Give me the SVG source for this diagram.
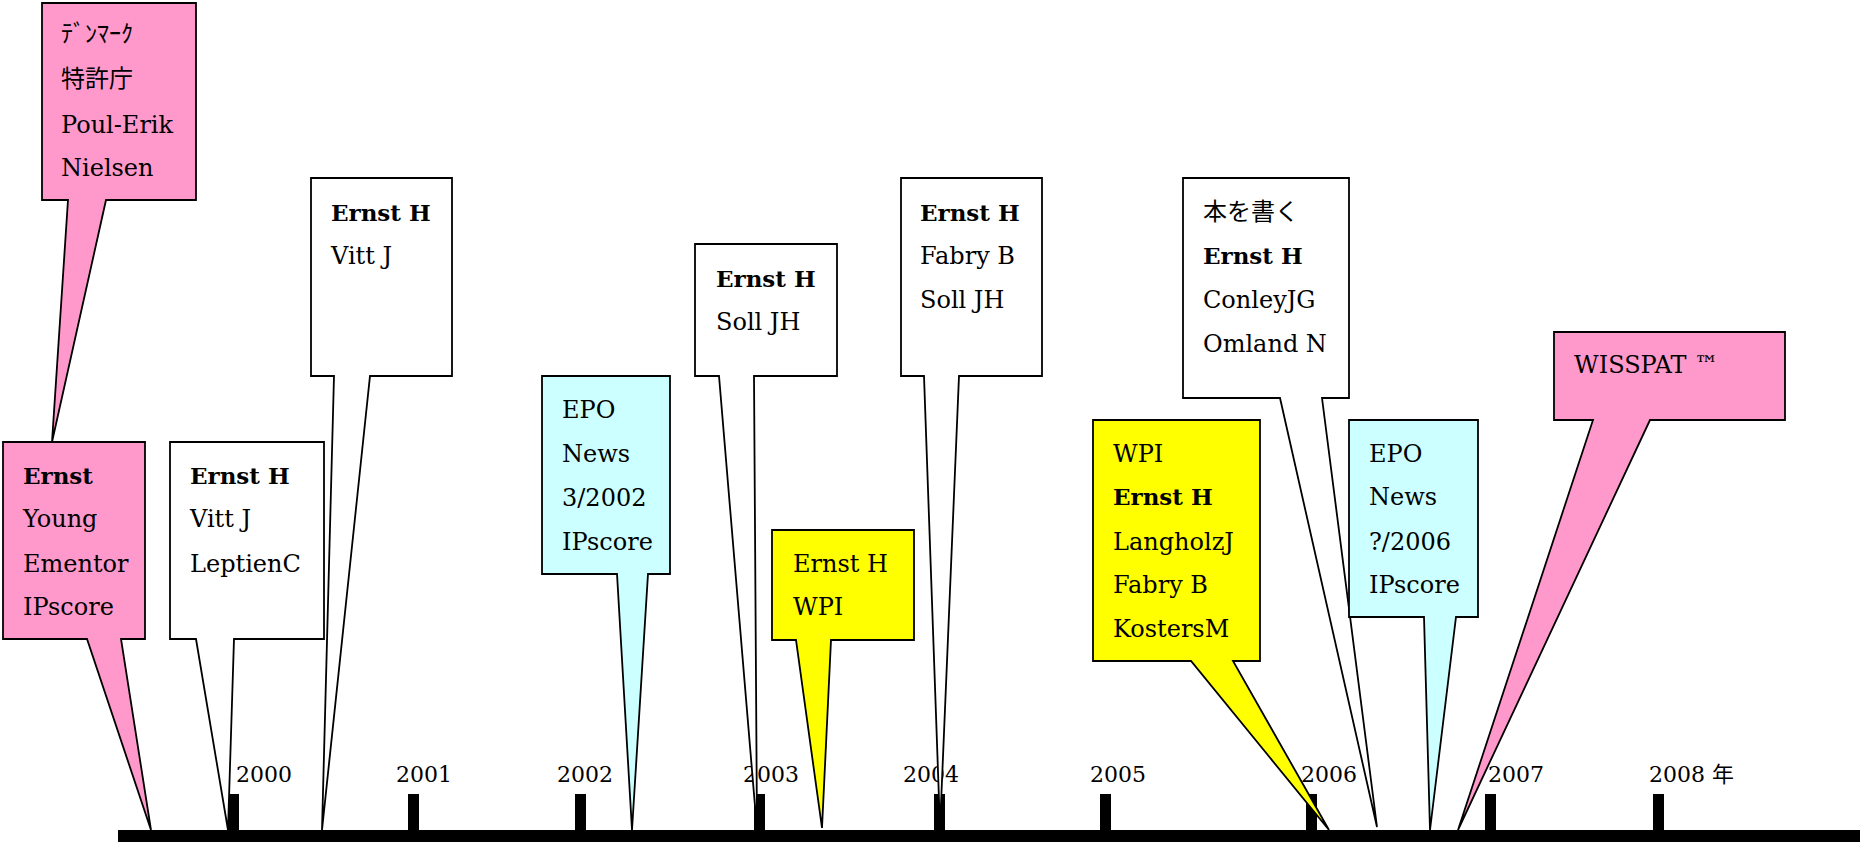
<svg xmlns="http://www.w3.org/2000/svg" width="1860" height="842" viewBox="0 0 1860 842">
<style>
.t{font-family:"DejaVu Serif","Noto Sans CJK JP",serif;font-size:24px;fill:#000}
.b{font-weight:bold;font-size:23px}
.y{font-family:"DejaVu Serif","Noto Sans CJK JP",serif;font-size:22px;fill:#000}
.co{stroke:#000;stroke-width:1.8;stroke-linejoin:miter}
.pink{fill:#FF99CC}.cyan{fill:#CCFFFF}.yel{fill:#FFFF00}.wht{fill:#FFFFFF}
.tick{fill:#000}
</style>
<rect width="1860" height="842" fill="#fff"/>
<g id="timeline">
<rect x="118" y="830" width="1742" height="12" fill="#000"/>
<rect class="tick" x="228" y="794" width="11" height="36"/>
<rect class="tick" x="408" y="794" width="11" height="36"/>
<rect class="tick" x="575" y="794" width="11" height="36"/>
<rect class="tick" x="754" y="794" width="11" height="36"/>
<rect class="tick" x="934" y="794" width="11" height="36"/>
<rect class="tick" x="1100" y="794" width="11" height="36"/>
<rect class="tick" x="1306" y="794" width="11" height="36"/>
<rect class="tick" x="1485" y="794" width="11" height="36"/>
<rect class="tick" x="1653" y="794" width="11" height="36"/>
<text class="y" x="236" y="782">2000</text>
<text class="y" x="396" y="782">2001</text>
<text class="y" x="557" y="782">2002</text>
<text class="y" x="743" y="782">2003</text>
<text class="y" x="903" y="782">2004</text>
<text class="y" x="1090" y="782">2005</text>
<text class="y" x="1301" y="782">2006</text>
<text class="y" x="1488" y="782">2007</text>
<text class="y" x="1649" y="782">2008 年</text>
</g>
<g id="connectors"></g>
<g id="c1">
<path class="co pink" d="M42,3 H196 V200 H106 L52,442 L68,200 H42 Z"/>
<text class="t" x="61" y="42">ﾃﾞﾝﾏｰｸ</text>
<text class="t" x="61" y="87">特許庁</text>
<text class="t" x="61" y="133">Poul-Erik</text>
<text class="t" x="61" y="176">Nielsen</text>
</g>
<g id="c2">
<path class="co pink" d="M3,442 H145 V639 H121 L151,830 L87,639 H3 Z"/>
<text class="t b" x="23" y="484">Ernst</text>
<text class="t" x="23" y="527">Young</text>
<text class="t" x="23" y="572">Ementor</text>
<text class="t" x="23" y="615">IPscore</text>
</g>
<g id="c3">
<path class="co wht" d="M170,442 H324 V639 H234 L228,830 L196,639 H170 Z"/>
<text class="t b" x="190" y="484">Ernst H</text>
<text class="t" x="190" y="527">Vitt J</text>
<text class="t" x="190" y="572">LeptienC</text>
</g>
<g id="c4">
<path class="co wht" d="M311,178 H452 V376 H370 L322,830 L334,376 H311 Z"/>
<text class="t b" x="331" y="221">Ernst H</text>
<text class="t" x="331" y="264">Vitt J</text>
</g>
<g id="c5">
<path class="co cyan" d="M542,376 H670 V574 H648 L632,830 L617,574 H542 Z"/>
<text class="t" x="562" y="418">EPO</text>
<text class="t" x="562" y="462">News</text>
<text class="t" x="562" y="506">3/2002</text>
<text class="t" x="562" y="550">IPscore</text>
</g>
<g id="c6">
<path class="co wht" d="M695,244 H837 V376 H754 L757,830 L719,376 H695 Z"/>
<text class="t b" x="716" y="287">Ernst H</text>
<text class="t" x="716" y="330">Soll JH</text>
</g>
<g id="c7">
<path class="co yel" d="M772,530 H914 V640 H831 L822,828 L796,640 H772 Z"/>
<text class="t" x="793" y="572">Ernst H</text>
<text class="t" x="793" y="615">WPI</text>
</g>
<g id="c8">
<path class="co wht" d="M901,178 H1042 V376 H959 L940,828 L924,376 H901 Z"/>
<text class="t b" x="920" y="221">Ernst H</text>
<text class="t" x="920" y="264">Fabry B</text>
<text class="t" x="920" y="308">Soll JH</text>
</g>
<g id="c9">
<path class="co wht" d="M1183,178 H1349 V398 H1322 L1377,827 L1280,398 H1183 Z"/>
<text class="t" x="1203" y="220">本を書く</text>
<text class="t b" x="1203" y="264">Ernst H</text>
<text class="t" x="1203" y="308">ConleyJG</text>
<text class="t" x="1203" y="352">Omland N</text>
</g>
<g id="c10">
<path class="co yel" d="M1093,420 H1260 V661 H1233 L1329,830 L1191,661 H1093 Z"/>
<text class="t" x="1113" y="462">WPI</text>
<text class="t b" x="1113" y="505">Ernst H</text>
<text class="t" x="1113" y="550">LangholzJ</text>
<text class="t" x="1113" y="593">Fabry B</text>
<text class="t" x="1113" y="637">KostersM</text>
</g>
<g id="c11">
<path class="co cyan" d="M1349,420 H1478 V617 H1456 L1430,830 L1424,617 H1349 Z"/>
<text class="t" x="1369" y="462">EPO</text>
<text class="t" x="1369" y="505">News</text>
<text class="t" x="1369" y="550">?/2006</text>
<text class="t" x="1369" y="593">IPscore</text>
</g>
<g id="c12">
<path class="co pink" d="M1554,332 H1785 V420 H1650 L1458,830 L1593,420 H1554 Z"/>
<text class="t" x="1574" y="373">WISSPAT ™</text>
</g>
</svg>
